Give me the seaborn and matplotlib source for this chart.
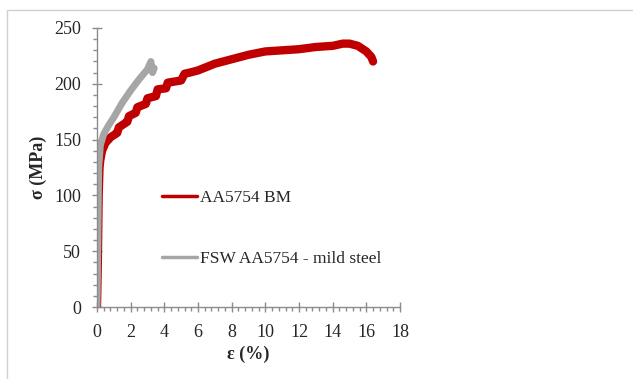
import matplotlib
matplotlib.use("Agg")
import matplotlib.pyplot as plt
import seaborn as sns
import pandas as pd
from matplotlib.ticker import MultipleLocator
from matplotlib.patches import Rectangle

# Data
bm_strain = [0, 0.05, 0.1, 0.15, 0.2, 0.3, 0.5, 0.8, 1.0, 1.2, 1.3, 1.6, 1.8, 1.9,
             2.3, 2.4, 2.9, 3.0, 3.5, 3.6, 4.1, 4.2, 5.0, 5.2, 5.5, 6.0, 7.0,
             8.0, 9.0, 10.0, 11.0, 12.0, 13.0, 14.0, 14.6, 15.0, 15.5, 16.0,
             16.3, 16.4]
bm_stress = [0, 40, 100, 125, 132, 140, 147, 152, 154, 156, 161, 164, 166, 171,
             174, 179, 182, 187, 189, 195, 196, 201, 203, 209, 210, 212, 218,
             222, 226, 229, 230, 231, 233, 234, 236, 236, 234, 229, 224, 220]
fsw_strain = [0, 0.05, 0.1, 0.2, 0.4, 0.7, 1.0, 1.5, 2.0, 2.5, 3.0, 3.2, 3.3, 3.4]
fsw_stress = [0, 60, 125, 145, 155, 163, 170, 183, 194, 204, 213, 220, 210, 214]

labels = ["AA5754 BM", "FSW AA5754 - mild steel"]
colors = ["#c00000", "#a6a6a6"]
x_ticks = [0, 2, 4, 6, 8, 10, 12, 14, 16, 18]
y_ticks = [0, 50, 100, 150, 200, 250]

sns.set_style("white")
plt.rcParams["font.family"] = ["Liberation Serif", "DejaVu Serif"]

df_bm = pd.DataFrame({"strain": bm_strain, "stress": bm_stress})
df_fsw = pd.DataFrame({"strain": fsw_strain, "stress": fsw_stress})

fig = plt.figure(figsize=(6.33, 3.79), dpi=100)
fig.patches.append(Rectangle((7 / 633, -0.1), 1.2, 1 - 10 / 379 + 0.1,
                             transform=fig.transFigure, fill=False,
                             edgecolor="#d0d0d0", linewidth=1))
ax = fig.add_axes([97 / 633, 1 - 307 / 379, 303 / 633, 279 / 379])

sns.lineplot(data=df_bm, x="strain", y="stress", ax=ax, color=colors[0],
             linewidth=6, label=labels[0], sort=False, estimator=None)
sns.lineplot(data=df_fsw, x="strain", y="stress", ax=ax, color=colors[1],
             linewidth=5, label=labels[1], sort=False, estimator=None)

ax.set_xlim(0, 18)
ax.set_ylim(0, 250)
ax.set_xticks(x_ticks)
ax.set_yticks(y_ticks)
ax.xaxis.set_minor_locator(MultipleLocator(0.4))
ax.yaxis.set_minor_locator(MultipleLocator(10))
ax.tick_params(which="major", direction="inout", length=7, width=1,
               color="#8c8c8c", labelsize=13)
ax.tick_params(axis="y", which="major", pad=8)
ax.tick_params(axis="x", which="major", pad=9)
ax.tick_params(which="minor", direction="out", length=3, width=1,
               color="#8c8c8c")
ax.tick_params(axis="both", which="both", bottom=True, left=True)
for s in ["top", "right"]:
    ax.spines[s].set_visible(False)
for s in ["left", "bottom"]:
    ax.spines[s].set_color("#8c8c8c")
    ax.spines[s].set_linewidth(1)

ax.set_xlabel("ε (%)", fontsize=13, fontweight="bold", labelpad=3)
ax.set_ylabel("σ (MPa)", fontsize=13, fontweight="bold", labelpad=5)

leg = ax.legend(loc="upper left", bbox_to_anchor=(0.215, 0.42), frameon=False,
                fontsize=12.5, handlelength=2.0, handletextpad=0.2,
                labelspacing=2.6, borderpad=0, borderaxespad=0)
for h in leg.get_lines():
    h.set_linewidth(2.5)

fig.savefig("out.png", dpi=100)
